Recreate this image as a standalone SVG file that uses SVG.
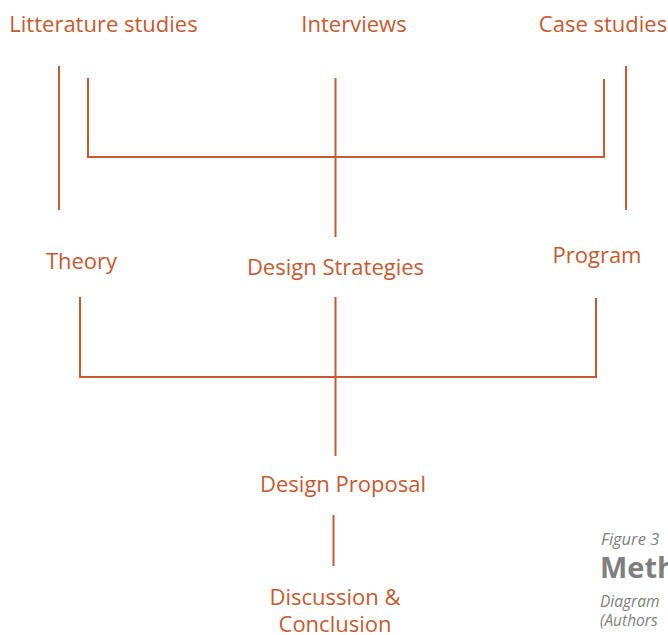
<svg xmlns="http://www.w3.org/2000/svg" width="668" height="635" viewBox="0 0 668 635">
<style>
.lbl{font-family:"Open Sans","Noto Sans","DejaVu Sans",sans-serif;font-size:22px;fill:#C55A32;text-anchor:middle}
.ln{stroke:#C55A32;stroke-width:2;fill:none}
.cap{font-family:"Open Sans","Noto Sans","DejaVu Sans",sans-serif;fill:#7F7F7F}
</style>
<rect width="668" height="635" fill="#FFFFFF"/>
<g id="connectors">
<line class="ln" x1="59" y1="66" x2="59" y2="210"/>
<line class="ln" x1="626" y1="66" x2="626" y2="210"/>
<polyline class="ln" points="88,78 88,157 604,157 604,79"/>
<line class="ln" x1="335.5" y1="78" x2="335.5" y2="237"/>
<polyline class="ln" points="80,297 80,377 596,377 596,298"/>
<line class="ln" x1="335.5" y1="297" x2="335.5" y2="456"/>
<line class="ln" x1="333.5" y1="515" x2="333.5" y2="566"/>
</g>
<g id="litterature"><text class="lbl" x="103.5" y="32">Litterature studies</text></g>
<g id="interviews"><text class="lbl" x="354" y="32">Interviews</text></g>
<g id="case"><text class="lbl" x="603" y="32">Case studies</text></g>
<g id="theory"><text class="lbl" x="81.5" y="269">Theory</text></g>
<g id="strategies"><text class="lbl" x="335.5" y="275">Design Strategies</text></g>
<g id="program"><text class="lbl" x="597" y="263">Program</text></g>
<g id="proposal"><text class="lbl" x="343" y="492">Design Proposal</text></g>
<g id="discussion"><text class="lbl" x="335" y="605">Discussion &amp;</text><text class="lbl" x="335" y="632">Conclusion</text></g>
<g id="caption">
<text class="cap" x="601" y="545" font-size="16.5" font-style="italic">Figure 3</text>
<text class="cap" x="600" y="578" font-size="29" font-weight="bold">Methodology</text>
<text class="cap" x="600" y="607" font-size="15.5" font-style="italic">Diagram</text>
<text class="cap" x="600" y="626" font-size="15.5" font-style="italic">(Authors</text>
</g>
</svg>
